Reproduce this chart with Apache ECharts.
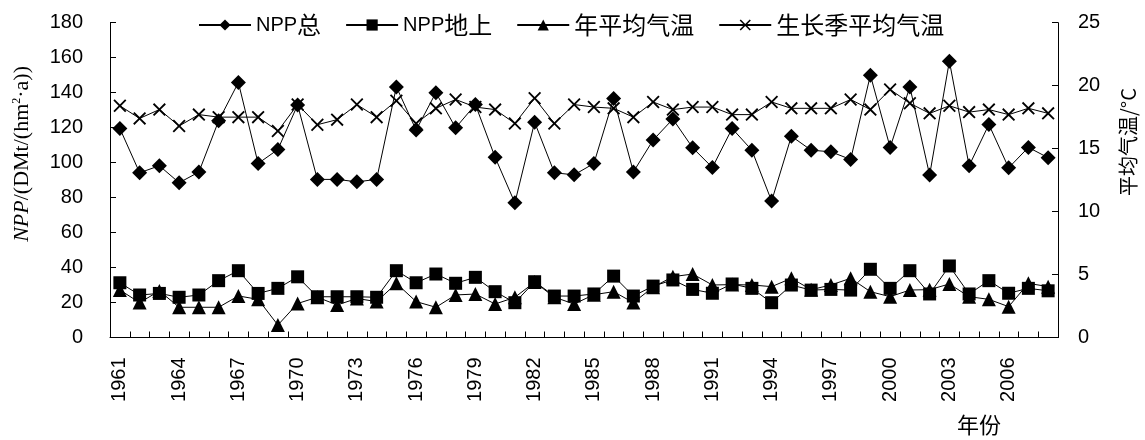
<!DOCTYPE html>
<html>
<head>
<meta charset="utf-8">
<script src="https://cdn.jsdelivr.net/npm/echarts@6/dist/echarts.min.js"></script>
<style>
html,body{margin:0;padding:0;background:#fff;}
#c{width:1145px;height:440px;}
</style>
</head>
<body>
<div id="c"></div>
<script>
var years = [];
for (var y = 1961; y <= 2008; y++) years.push(String(y));

var nppTotal = [119.5, 94.2, 98.2, 88.5, 94.6, 123.9, 145.8, 99.5, 107.5, 133.0,
  90.4, 90.4, 89.0, 90.4, 143.3, 118.6, 140.0, 119.9, 133.2, 103.0,
  77.0, 123.1, 94.2, 93.0, 99.5, 136.7, 94.7, 112.9, 124.9, 108.5,
  97.2, 119.5, 107.1, 78.0, 115.1, 107.1, 106.2, 101.8, 150.0, 108.7,
  143.3, 92.9, 158.0, 98.2, 121.8, 97.0, 108.7, 102.8];

var nppAbove = [31.3, 24.3, 25.2, 23.0, 24.3, 32.5, 38.2, 25.2, 28.1, 34.7,
  23.3, 23.3, 23.3, 23.0, 38.2, 31.3, 36.3, 31.0, 34.4, 26.2,
  19.9, 31.9, 23.7, 23.7, 24.9, 35.1, 23.7, 29.4, 32.9, 27.5,
  25.3, 30.6, 28.1, 19.9, 30.0, 27.1, 27.5, 27.1, 39.0, 28.1,
  38.2, 24.9, 40.9, 24.9, 32.5, 25.3, 28.1, 26.7];

var tempAnnual = [3.77, 2.77, 3.7, 2.4, 2.4, 2.4, 3.3, 3.03, 0.99, 2.7,
  3.2, 2.58, 3.1, 2.85, 4.3, 2.85, 2.4, 3.38, 3.45, 2.66,
  3.19, 4.4, 3.2, 2.66, 3.4, 3.64, 2.77, 4.0, 4.83, 5.04,
  4.17, 4.2, 4.17, 4.04, 4.7, 3.8, 4.17, 4.7, 3.64, 3.24,
  3.77, 3.8, 4.25, 3.24, 3.03, 2.45, 4.3, 4.04];

var tempGrowing = [18.4, 17.4, 18.1, 16.8, 17.7, 17.5, 17.5, 17.5, 16.4, 18.5,
  16.9, 17.3, 18.5, 17.5, 18.8, 17.0, 18.2, 18.9, 18.3, 18.1,
  17.0, 19.0, 17.0, 18.5, 18.3, 18.2, 17.5, 18.7, 18.1, 18.3,
  18.3, 17.7, 17.7, 18.7, 18.2, 18.2, 18.2, 18.9, 18.1, 19.7,
  18.6, 17.8, 18.4, 17.9, 18.1, 17.7, 18.2, 17.8];

var leftTicks = [0, 20, 40, 60, 80, 100, 120, 140, 160, 180];
var rightTicks = [0, 5, 10, 15, 20, 25];
var seriesNames = ['NPP总', 'NPP地上', '年平均气温', '生长季平均气温'];

var crossPath = 'path://M0,1 L1,0 L5,4 L9,0 L10,1 L6,5 L10,9 L9,10 L5,6 L1,10 L0,9 L4,5 Z';
var latin = 'Liberation Sans, Arial, Noto Sans CJK SC, sans-serif';
var cjk = 'Noto Sans CJK SC, sans-serif';

var chart = echarts.init(document.getElementById('c'), null, {renderer: 'canvas'});

function mkSeries(name, data, yIdx, symbol, size, z) {
  return {
    name: name, type: 'line', data: data, yAxisIndex: yIdx,
    symbol: symbol, symbolSize: size, z: z,
    showAllSymbol: true,
    lineStyle: {color: '#000', width: 1},
    itemStyle: {color: '#000', borderColor: '#000', borderWidth: 0},
    emphasis: {disabled: true},
    animation: false
  };
}

function legendFmt(name) {
  var m = name.match(/^([A-Za-z]*)(.*)$/);
  var s = '';
  if (m[1]) s += '{l|' + m[1] + '}';
  if (m[2]) s += '{c|' + m[2] + '}';
  return s;
}

chart.setOption({
  animation: false,
  backgroundColor: '#fff',
  grid: {left: 110, right: 87, top: 22.7, bottom: 102.5, containLabel: false},
  legend: {
    top: 8, left: 193,
    itemWidth: 52, itemHeight: 14, itemGap: 24,
    formatter: legendFmt,
    textStyle: {
      color: '#000',
      rich: {
        l: {fontFamily: latin, fontSize: 20, color: '#000'},
        c: {fontFamily: cjk, fontSize: 24, color: '#000'}
      }
    },
    data: seriesNames
  },
  xAxis: {
    type: 'category', data: years, boundaryGap: true,
    axisLine: {lineStyle: {color: '#000', width: 1}},
    axisTick: {show: true, inside: true, interval: 0, length: 6, lineStyle: {color: '#000'}},
    axisLabel: {interval: 2, rotate: 90, margin: 20, fontFamily: latin, fontSize: 20, color: '#000'},
    splitLine: {show: false}
  },
  yAxis: [
    {
      type: 'value', min: 0, max: 180, interval: 20, position: 'left',
      axisLine: {show: true, lineStyle: {color: '#000', width: 1}},
      axisTick: {show: true, inside: true, length: 6, lineStyle: {color: '#000'}},
      axisLabel: {margin: 27, fontFamily: latin, fontSize: 20, color: '#000'},
      splitLine: {show: false}
    },
    {
      type: 'value', min: 0, max: 25, interval: 5, position: 'right',
      axisLine: {show: true, lineStyle: {color: '#000', width: 1}},
      axisTick: {show: true, inside: true, length: 6, lineStyle: {color: '#000'}},
      axisLabel: {margin: 20, fontFamily: latin, fontSize: 20, color: '#000'},
      splitLine: {show: false}
    }
  ],
  graphic: [
    {
      type: 'text', left: 11, top: 66, rotation: Math.PI / 2,
      style: {
        text: '{i|NPP}{n|/(DMt/(hm}{s|2}{n|·a))}',
        rich: {
          i: {fontFamily: 'Liberation Serif, serif', fontStyle: 'italic', fontSize: 22, fill: '#000'},
          n: {fontFamily: 'Liberation Serif, serif', fontSize: 22, fill: '#000'},
          s: {fontFamily: 'Liberation Serif, serif', fontSize: 12, fill: '#000', verticalAlign: 'top', padding: [0, 0, 10, 0]}
        },
        x: 0, y: 0
      }
    },
    {
      type: 'text', left: 1118, top: 88, rotation: Math.PI / 2,
      style: {text: '平均气温/°C', font: '20px Noto Sans CJK SC, sans-serif', fill: '#000'}
    },
    {
      type: 'text', left: 957, top: 414,
      style: {text: '年份', font: '22px Noto Sans CJK SC, sans-serif', fill: '#000'}
    }
  ],
  series: [
    mkSeries(seriesNames[0], nppTotal, 0, 'diamond', 15, 5),
    mkSeries(seriesNames[1], nppAbove, 0, 'rect', 13, 4),
    mkSeries(seriesNames[2], tempAnnual, 1, 'triangle', 14, 3),
    mkSeries(seriesNames[3], tempGrowing, 1, crossPath, 13, 2)
  ]
});
</script>
</body>
</html>
